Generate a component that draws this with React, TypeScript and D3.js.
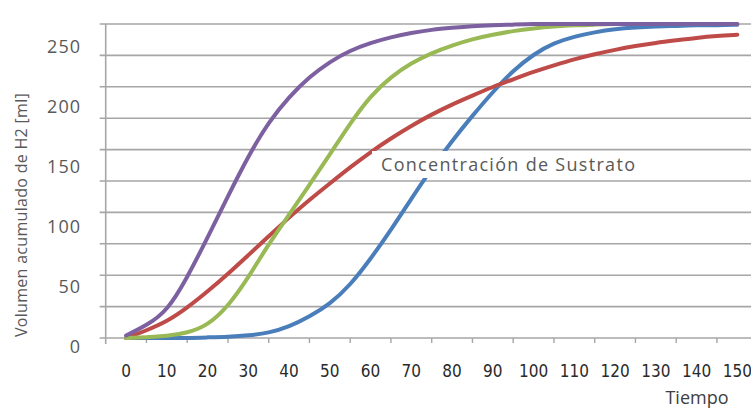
import { scaleBand, scaleLinear, line, curveBasis, range } from "d3";

// sampling times (every 5 units) and category labels on the x axis
const times = range(0, 151, 5);
const categories = ["0", "10", "20", "30", "40", "50", "60", "70", "80", "90", "100", "110", "120", "130", "140", "150"];
const yTickLabels = [0, 50, 100, 150, 200, 250];

const blue = [0, 0, 0, 0, 0.5, 1, 2, 4, 9, 17, 27, 42, 63, 86, 111, 135, 157, 177, 196, 213, 226, 235, 240, 243.5, 246, 247.2, 248, 248.5, 249, 249, 249.5];
const red = [0, 6, 13, 24, 37, 51, 66, 81, 96, 110, 123, 136, 148, 159, 169, 178, 186, 193, 200, 206, 212, 217, 222, 226, 229.5, 232.5, 235, 237, 239, 240.5, 241.5];
const green = [0, 0.5, 1.5, 4, 10, 25, 48, 75, 98, 122, 146, 171, 193, 208, 219, 227, 233, 238, 241.5, 244.5, 246.5, 248, 249, 249.5, 250, 250, 250, 250, 250, 250, 250];
const purple = [2, 10, 21, 48, 80, 113, 145, 172, 192, 208, 220, 229, 235, 239.5, 243, 245.5, 247, 248.3, 249, 249.5, 250, 250, 250, 250, 250, 250, 250, 250, 250, 250, 250];

const series = [
  { name: "blue", values: blue, color: "#4a7ebb" },
  { name: "red", values: red, color: "#be4b48" },
  { name: "green", values: green, color: "#98b954" },
  { name: "purple", values: purple, color: "#7d60a0" },
];

const width = 751;
const height = 412;
const plot = { left: 105.7, top: 24, bottom: 338, band: 40.75 };

export default function App() {
  const xBand = scaleBand()
    .domain(categories)
    .range([plot.left, plot.left + plot.band * categories.length]);
  const x = scaleLinear()
    .domain([0, 150])
    .range([(xBand("0") ?? 0) + xBand.bandwidth() / 2, (xBand("150") ?? 0) + xBand.bandwidth() / 2]);
  const y = scaleLinear().domain([0, 250]).range([plot.bottom, plot.top]);
  // the value labels sit a bit off the gridlines in the original
  const yLabel = scaleLinear().domain([0, 250]).range([346.7, 46.7]);

  const path = line<number>()
    .x((_, i) => x(times[i]))
    .y((d) => y(d))
    .curve(curveBasis);

  const grid = range(0, 251, 25);
  const tickXs = categories.map((c) => xBand(c) ?? 0);

  return (
    <svg
      width={width}
      height={height}
      style={{ position: "absolute", left: 0, top: 0, background: "#fff" }}
    >
      {grid.map((v) => (
        <line key={v} x1={plot.left - 6} x2={width} y1={y(v)} y2={y(v)} stroke="#a6a6a6" strokeWidth={1.6} />
      ))}
      <line x1={plot.left} x2={plot.left} y1={plot.top} y2={plot.bottom + 6} stroke="#a6a6a6" strokeWidth={1.6} />
      {tickXs.slice(1).map((tx, i) => (
        <line key={i} x1={tx} x2={tx} y1={plot.bottom} y2={plot.bottom + 5} stroke="#a6a6a6" strokeWidth={1.4} />
      ))}

      {series.map((s) => (
        <path key={s.name} d={path(s.values) ?? ""} fill="none" stroke={s.color} strokeWidth={4} strokeLinecap="round" />
      ))}

      {/* annotation with white box */}
      <rect x={372} y={151} width={273} height={27} fill="#fff" />
      <text x={381} y={171} fontFamily="'Open Sans', sans-serif" fontSize={18} letterSpacing={1.3} fill="#595959">
        Concentración de Sustrato
      </text>

      {yTickLabels.map((v) => (
        <text
          key={v}
          x={81}
          y={yLabel(v)}
          dy="0.35em"
          textAnchor="end"
          fontFamily="'Open Sans', sans-serif"
          fontSize={18}
          letterSpacing={1}
          fill="#595959"
        >
          {v}
        </text>
      ))}

      {categories.map((c) => (
        <text
          key={c}
          x={(xBand(c) ?? 0) + xBand.bandwidth() / 2}
          y={370.7}
          dy="0.35em"
          textAnchor="middle"
          fontFamily="'Liberation Sans Narrow', 'DejaVu Sans Condensed', sans-serif"
          fontSize={17}
          fill="#2a2a2a"
        >
          {c}
        </text>
      ))}

      <text x={697} y={404} textAnchor="middle" fontFamily="'Open Sans', sans-serif" fontSize={18} fill="#404040">
        Tiempo
      </text>
      <text
        transform="translate(27, 215) rotate(-90)"
        textAnchor="middle"
        fontFamily="'Open Sans', sans-serif"
        fontSize={16}
        letterSpacing={0.3}
        fill="#595959"
      >
        Volumen acumulado de H2 [ml]
      </text>
    </svg>
  );
}
